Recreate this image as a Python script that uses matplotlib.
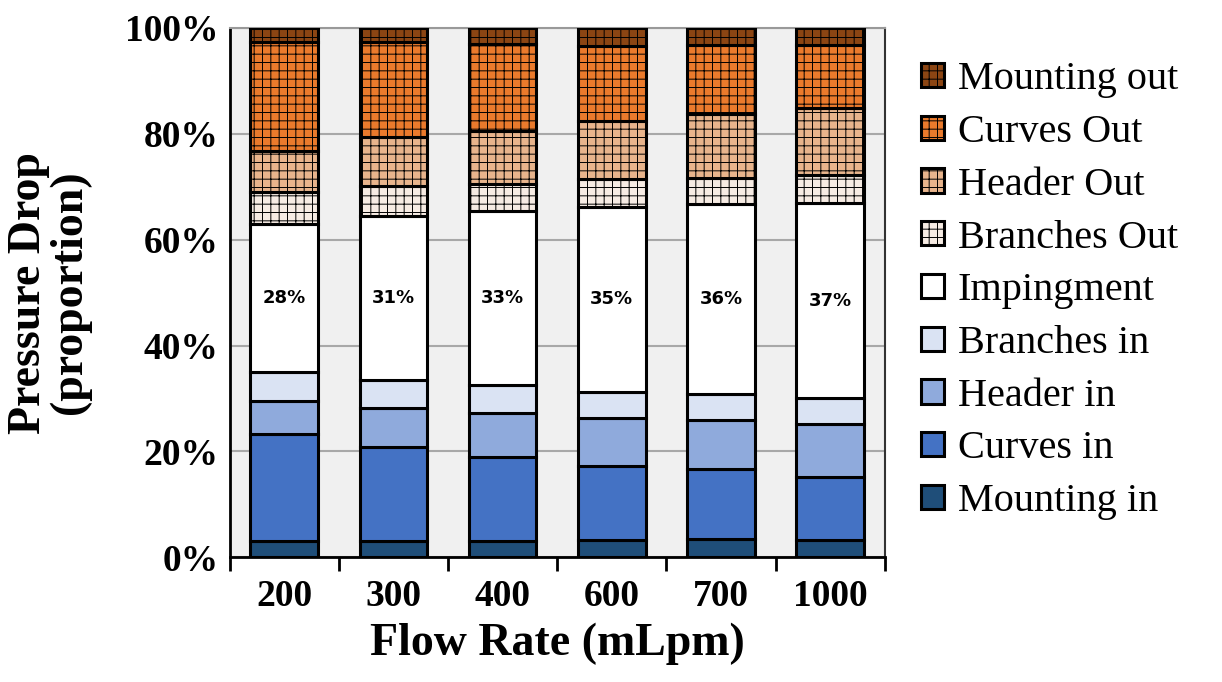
import numpy as np
import matplotlib
matplotlib.use("Agg")
import matplotlib.pyplot as plt

# Data (percent of total pressure drop)
flow_rates = ["200", "300", "400", "600", "700", "1000"]
series_names = ["Mounting in", "Curves in", "Header in", "Branches in", "Impingment",
                "Branches Out", "Header Out", "Curves Out", "Mounting out"]
mounting_in = [3.0, 3.0, 3.0, 3.3, 3.5, 3.2]
curves_in = [20.3, 17.8, 16.0, 14.0, 13.1, 11.9]
header_in = [6.2, 7.4, 8.2, 9.0, 9.3, 10.0]
branches_in = [5.5, 5.3, 5.3, 4.9, 4.9, 4.9]
impingement = [28, 31, 33, 35, 36, 37]
branches_out = [6.0, 5.6, 5.0, 5.3, 4.8, 5.2]
header_out = [7.7, 9.3, 10.0, 11.0, 12.1, 12.7]
curves_out = [20.7, 18.0, 16.5, 14.0, 13.1, 11.9]
mounting_out = [2.6, 2.6, 3.0, 3.5, 3.2, 3.2]

all_series = [mounting_in, curves_in, header_in, branches_in, impingement,
              branches_out, header_out, curves_out, mounting_out]
colors = ["#1f4e79", "#4472c4", "#8faadc", "#dae3f3", "#ffffff",
          "#f6ebe3", "#e8b48c", "#ea7a2c", "#8b4513"]
hatches = [None, None, None, None, None, "++", "++", "++", "++"]

plt.rcParams["font.family"] = ["Liberation Serif", "DejaVu Serif"]
plt.rcParams["hatch.linewidth"] = 0.7

fig = plt.figure(figsize=(12.22, 6.82), dpi=100)
ax = fig.add_axes([0.188, 0.183, 0.536, 0.776])
ax.set_facecolor("#f0f0f0")

x = np.arange(len(flow_rates))
bottom = np.zeros(len(flow_rates))
bars = []
for name, vals, c, h in zip(series_names, all_series, colors, hatches):
    vals = np.array(vals, dtype=float) / 100.0
    b = ax.bar(x, vals, 0.62, bottom=bottom, color=c, edgecolor="black",
               linewidth=2.2, hatch=h, label=name, zorder=3)
    bars.append(b)
    bottom += vals

# labels inside the impingement segment
imp_bottom = (np.array(mounting_in) + np.array(curves_in) + np.array(header_in)
              + np.array(branches_in)) / 100.0
for i, v in enumerate(impingement):
    ax.text(x[i], imp_bottom[i] + v / 200.0, f"{v}%", ha="center", va="center",
            fontsize=13, fontweight="bold", family="DejaVu Sans", zorder=5)

ax.set_xlim(-0.5, len(flow_rates) - 0.5)
ax.set_ylim(0, 1)
ax.set_yticks([0, 0.2, 0.4, 0.6, 0.8, 1.0])
ax.set_yticklabels(["0%", "20%", "40%", "60%", "80%", "100%"],
                   fontsize=27, fontweight="bold")
ax.yaxis.grid(True, color="#a8a8a8", linewidth=1.5, zorder=0)
ax.set_axisbelow(True)

ax.set_xticks(x)
ax.set_xticklabels(flow_rates, fontsize=27, fontweight="bold")
ax.tick_params(axis="x", which="major", length=0, pad=16)
ax.set_xticks(np.arange(-0.5, len(flow_rates)), minor=True)
ax.tick_params(axis="x", which="minor", length=10, width=2, direction="out")
ax.tick_params(axis="y", length=0, pad=8)

for side in ["left", "bottom"]:
    ax.spines[side].set_linewidth(2)
    ax.spines[side].set_color("black")
ax.spines["right"].set_linewidth(1.5)
ax.spines["right"].set_color("#333333")
ax.spines["top"].set_linewidth(1.5)
ax.spines["top"].set_color("#999999")

ax.set_xlabel("Flow Rate (mLpm)", fontsize=33, fontweight="bold", labelpad=6)
ax.set_ylabel("Pressure Drop\n(proportion)", fontsize=33, fontweight="bold",
              linespacing=0.95)
ax.yaxis.set_label_coords(-0.212, 0.5)

handles = [b.patches[0] for b in bars][::-1]
leg = fig.legend(handles, series_names[::-1], loc="upper left",
                 bbox_to_anchor=(0.754, 0.91), frameon=False, fontsize=29,
                 handlelength=0.55, handleheight=0.55, handletextpad=0.35,
                 labelspacing=0.39, borderaxespad=0, borderpad=0)

fig.savefig("out.png", dpi=100)
